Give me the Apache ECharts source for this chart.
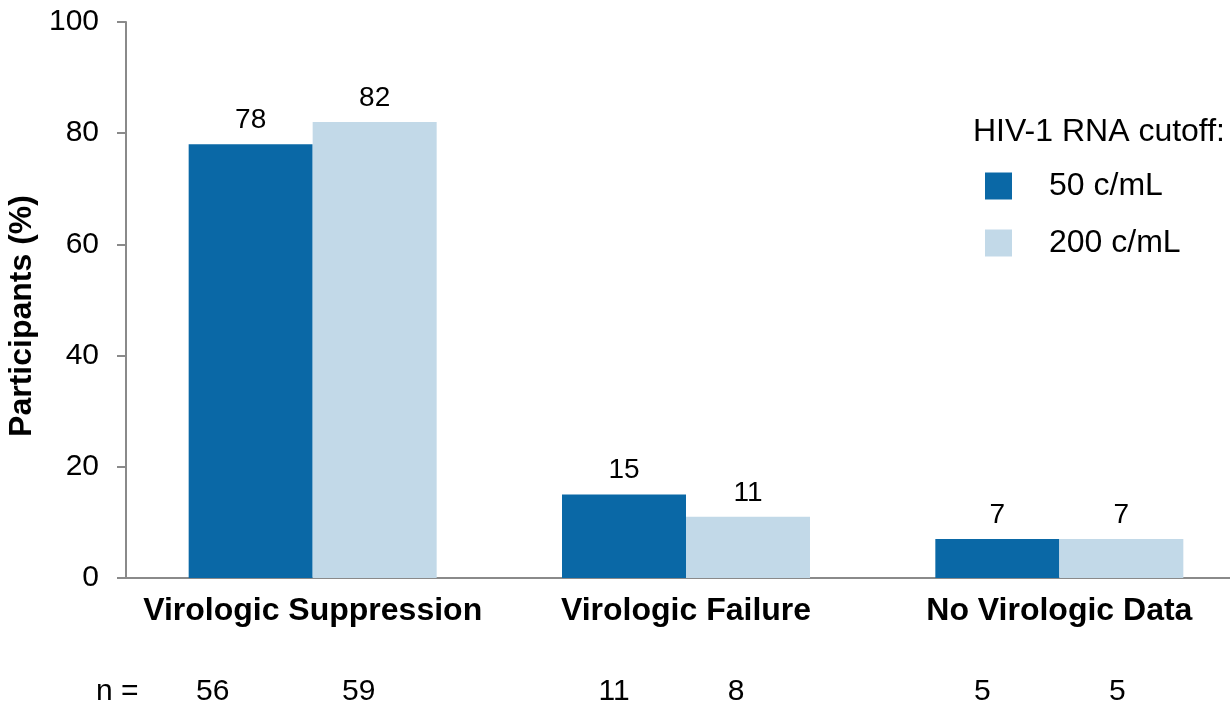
<!DOCTYPE html>
<html>
<head>
<meta charset="utf-8">
<script src="https://cdn.jsdelivr.net/npm/echarts@6/dist/echarts.min.js"></script>
<style>
  html, body { margin: 0; padding: 0; background: #fff; }
  #chart { width: 1230px; height: 704px; }
</style>
</head>
<body>
<div id="chart"></div>
<script>
// Outcome categories and percentages by HIV-1 RNA cutoff
const categories = ['Virologic Suppression', 'Virologic Failure', 'No Virologic Data'];
const seriesNames = ['50 c/mL', '200 c/mL'];
const cutoff50 = [78, 15, 7];
const cutoff200 = [82, 11, 7];
const n50 = [56, 11, 5];
const n200 = [59, 8, 5];
const yTicks = [0, 20, 40, 60, 80, 100];

// Horizontal nudges of the "n" row text relative to each bar centre
const nShift50 = [-38, -10, -15];
const nShift200 = [-16, -12, -4];

const FONT = '"Liberation Sans", Arial, Helvetica, sans-serif';
const DARK = '#0A68A6';
const LIGHT = '#C2D9E8';
const AXIS = '#8A8A8A';

const chart = echarts.init(document.getElementById('chart'), null, { renderer: 'canvas' });

const gridBox = {
  left: 126, top: 22, width: 1120, height: 556,
  containLabel: false,
  outerBoundsMode: 'none'
};

function valueSeries(name, data, color) {
  return {
    name: name,
    type: 'bar',
    xAxisIndex: 0,
    yAxisIndex: 0,
    data: data,
    barWidth: 124,
    barGap: '0%',
    itemStyle: { color: color },
    label: {
      show: true,
      position: 'top',
      distance: 10,
      color: '#000',
      fontFamily: FONT,
      fontSize: 28
    },
    emphasis: { disabled: true }
  };
}

// Sample sizes printed beneath each bar, on an overlaid twin axis
function countSeries(name, data, counts, shifts) {
  return {
    name: name + ' n',
    type: 'bar',
    xAxisIndex: 1,
    yAxisIndex: 1,
    data: data.map((v, i) => ({
      value: v,
      label: { offset: [shifts[i], 0] }
    })),
    barWidth: 124,
    barGap: '0%',
    itemStyle: { color: 'transparent' },
    label: {
      show: true,
      position: 'bottom',
      distance: 99,
      color: '#000',
      fontFamily: FONT,
      fontSize: 30,
      formatter: p => String(counts[p.dataIndex])
    },
    silent: true,
    emphasis: { disabled: true }
  };
}

const option = {
  backgroundColor: '#fff',
  animation: false,
  grid: [
    Object.assign({}, gridBox),
    Object.assign({}, gridBox)
  ],
  xAxis: [
    {
      type: 'category',
      gridIndex: 0,
      data: categories,
      axisLine: { show: true, lineStyle: { color: AXIS, width: 2 } },
      axisTick: { show: false },
      axisLabel: {
        color: '#000',
        fontFamily: FONT,
        fontSize: 32,
        fontWeight: 'bold',
        margin: 17,
        interval: 0
      }
    },
    {
      type: 'category',
      gridIndex: 1,
      data: categories,
      show: false
    }
  ],
  yAxis: [
    {
      type: 'value',
      gridIndex: 0,
      min: yTicks[0],
      max: yTicks[yTicks.length - 1],
      interval: yTicks[1] - yTicks[0],
      name: 'Participants (%)',
      nameLocation: 'middle',
      nameGap: 71,
      nameRotate: 90,
      nameTextStyle: {
        color: '#000',
        fontFamily: FONT,
        fontSize: 32,
        fontWeight: 'bold',
        padding: [0, 32, 0, 0]
      },
      axisLine: { show: true, lineStyle: { color: AXIS, width: 2 } },
      axisTick: { show: true, length: 9, lineStyle: { color: AXIS, width: 2 } },
      splitLine: { show: false },
      axisLabel: {
        color: '#000',
        fontFamily: FONT,
        fontSize: 30,
        margin: 27
      }
    },
    {
      type: 'value',
      gridIndex: 1,
      min: yTicks[0],
      max: yTicks[yTicks.length - 1],
      show: false
    }
  ],
  legend: {
    orient: 'vertical',
    left: 985,
    top: 170,
    padding: 0,
    itemWidth: 27,
    itemHeight: 27,
    itemGap: 25,
    icon: 'rect',
    data: seriesNames,
    selectedMode: false,
    textStyle: {
      color: '#000',
      fontFamily: FONT,
      fontSize: 32,
      lineHeight: 27,
      padding: [0, 0, 0, 32]
    }
  },
  graphic: [
    {
      type: 'text',
      left: 973,
      top: 116,
      style: {
        text: 'HIV-1 RNA cutoff:',
        fill: '#000',
        font: '32px ' + FONT
      }
    },
    {
      type: 'text',
      left: 96,
      top: 677,
      style: {
        text: 'n =',
        fill: '#000',
        font: '30px ' + FONT
      }
    }
  ],
  series: [
    valueSeries(seriesNames[0], cutoff50, DARK),
    valueSeries(seriesNames[1], cutoff200, LIGHT),
    countSeries(seriesNames[0], cutoff50, n50, nShift50),
    countSeries(seriesNames[1], cutoff200, n200, nShift200)
  ]
};

chart.setOption(option);
</script>
</body>
</html>
